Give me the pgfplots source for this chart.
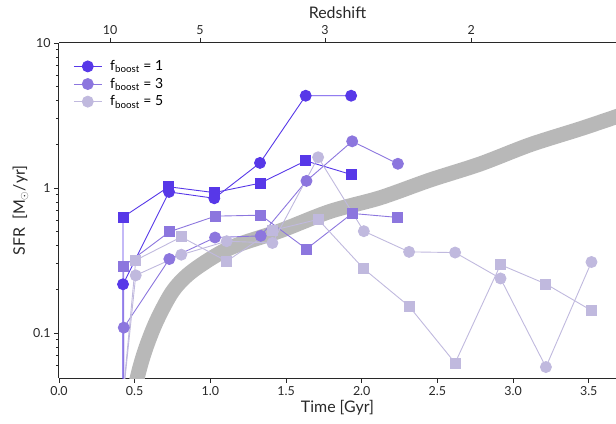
\documentclass[border=0pt]{standalone}
\usepackage{pgfplots}
\pgfplotsset{compat=1.18}
\usepackage{fontspec}
\setmainfont{Lato}
\definecolor{cA}{RGB}{87,56,232}
\definecolor{cB}{RGB}{140,118,222}
\definecolor{cC}{RGB}{192,185,222}
\definecolor{band}{RGB}{184,184,184}
\definecolor{axc}{RGB}{40,40,40}
\begin{document}
\begin{tikzpicture}
\pgfplotsset{
  common/.style={
    scale only axis, width=557bp, height=335bp,
    xmin=0, xmax=3.68,
    tick align=outside,
    major tick length=5bp, minor tick length=3bp,
    every tick/.style={axc, line width=0.8bp},
    axis line style={axc, line width=1bp},
    /pgf/number format/assume math mode=true,
    ticklabel style={font=\fontsize{12.5}{15}\selectfont, text=axc},
    label style={font=\fontsize{16}{19}\selectfont, text=axc},
  },
  ser/.style={color=#1, line width=0.9bp, mark options={solid, fill=#1, draw=#1}},
}
\begin{axis}[common,
  ymode=log, ymin=0.049, ymax=10,
  axis x line*=bottom, axis y line*=left,
  xtick={0,0.5,...,3.5},
  xticklabel style={/pgf/number format/.cd, fixed, fixed zerofill, precision=1},
  ytick={0.1,1,10}, yticklabels={0.1,1,10},
  minor ytick={0.06,0.07,0.08,0.09,0.2,0.3,0.4,0.5,0.6,0.7,0.8,0.9,2,3,4,5,6,7,8,9},
  xlabel={Time [Gyr]},
  ylabel={SFR\ \ [M$_\odot$/yr]},
  xlabel style={yshift=2bp},
  ylabel style={yshift=-2bp},
  legend style={draw=none, fill=none, at={(0.02,0.96)}, anchor=north west,
    font=\fontsize{14}{16}\selectfont, row sep=2bp,
    /tikz/every odd column/.append style={column sep=6bp}},
  legend cell align=left,
  legend image code/.code={\draw[#1, mark repeat=2, mark phase=2] plot coordinates {(0bp,0bp) (14bp,0bp) (28bp,0bp)};},
]
\coordinate (ll) at (rel axis cs:0,0);
\coordinate (ur) at (rel axis cs:1,1);
% gray band
\addplot[band, line width=15bp, smooth, forget plot] coordinates {
 (0.47,0.025) (0.513,0.047) (0.568,0.0757) (0.646,0.122) (0.755,0.197) (0.888,0.271)
 (1.129,0.386) (1.461,0.507) (1.791,0.69) (2.122,0.857) (2.452,1.136) (2.783,1.466)
 (3.113,1.99) (3.444,2.56) (3.70,3.15)};
% f_boost = 1
\addplot[ser=cA, mark=*, mark size=5.5bp] coordinates {
 (0.423,0.001) (0.423,0.217) (0.727,0.94) (1.026,0.85) (1.328,1.49) (1.63,4.33) (1.93,4.33)};
\addlegendentry{f\textsubscript{boost} = 1}
\addplot[ser=cA, mark=square*, mark size=5bp, forget plot] coordinates {
 (0.423,0.001) (0.423,0.63) (0.725,1.02) (1.026,0.93) (1.328,1.08) (1.63,1.54) (1.93,1.24)};
% f_boost = 3
\addplot[ser=cB, mark=*, mark size=5.5bp] coordinates {
 (0.428,0.001) (0.428,0.109) (0.729,0.324) (1.031,0.456) (1.333,0.468) (1.635,1.12) (1.937,2.1) (2.239,1.47)};
\addlegendentry{f\textsubscript{boost} = 3}
\addplot[ser=cB, mark=square*, mark size=5bp, forget plot] coordinates {
 (0.428,0.001) (0.428,0.29) (0.731,0.50) (1.033,0.64) (1.333,0.65) (1.635,0.38) (1.937,0.668) (2.239,0.627)};
% f_boost = 5
\addplot[ser=cC, mark=*, mark size=5.5bp] coordinates {
 (0.415,0.03) (0.507,0.25) (0.808,0.347) (1.108,0.43) (1.41,0.418) (1.712,1.63) (2.014,0.504)
 (2.313,0.363) (2.617,0.359) (2.917,0.238) (3.217,0.0583) (3.518,0.309)};
\addlegendentry{f\textsubscript{boost} = 5}
\addplot[ser=cC, mark=square*, mark size=5bp, forget plot] coordinates {
 (0.415,0.03) (0.507,0.318) (0.808,0.46) (1.108,0.313) (1.41,0.51) (1.712,0.608) (2.014,0.277)
 (2.313,0.153) (2.617,0.0622) (2.917,0.296) (3.217,0.218) (3.518,0.143)};
\end{axis}
\begin{axis}[common,
  ymin=0, ymax=1,
  axis x line*=top, axis y line=none,
  xtick={0.337,0.932,1.758,2.723}, xticklabels={10,5,3,2},
  xlabel={Redshift},
]
\end{axis}
\pgfresetboundingbox
\useasboundingbox ([shift={(-59bp,-46bp)}]ll) rectangle ([shift={(0bp,43bp)}]ur);
\end{tikzpicture}
\end{document}
